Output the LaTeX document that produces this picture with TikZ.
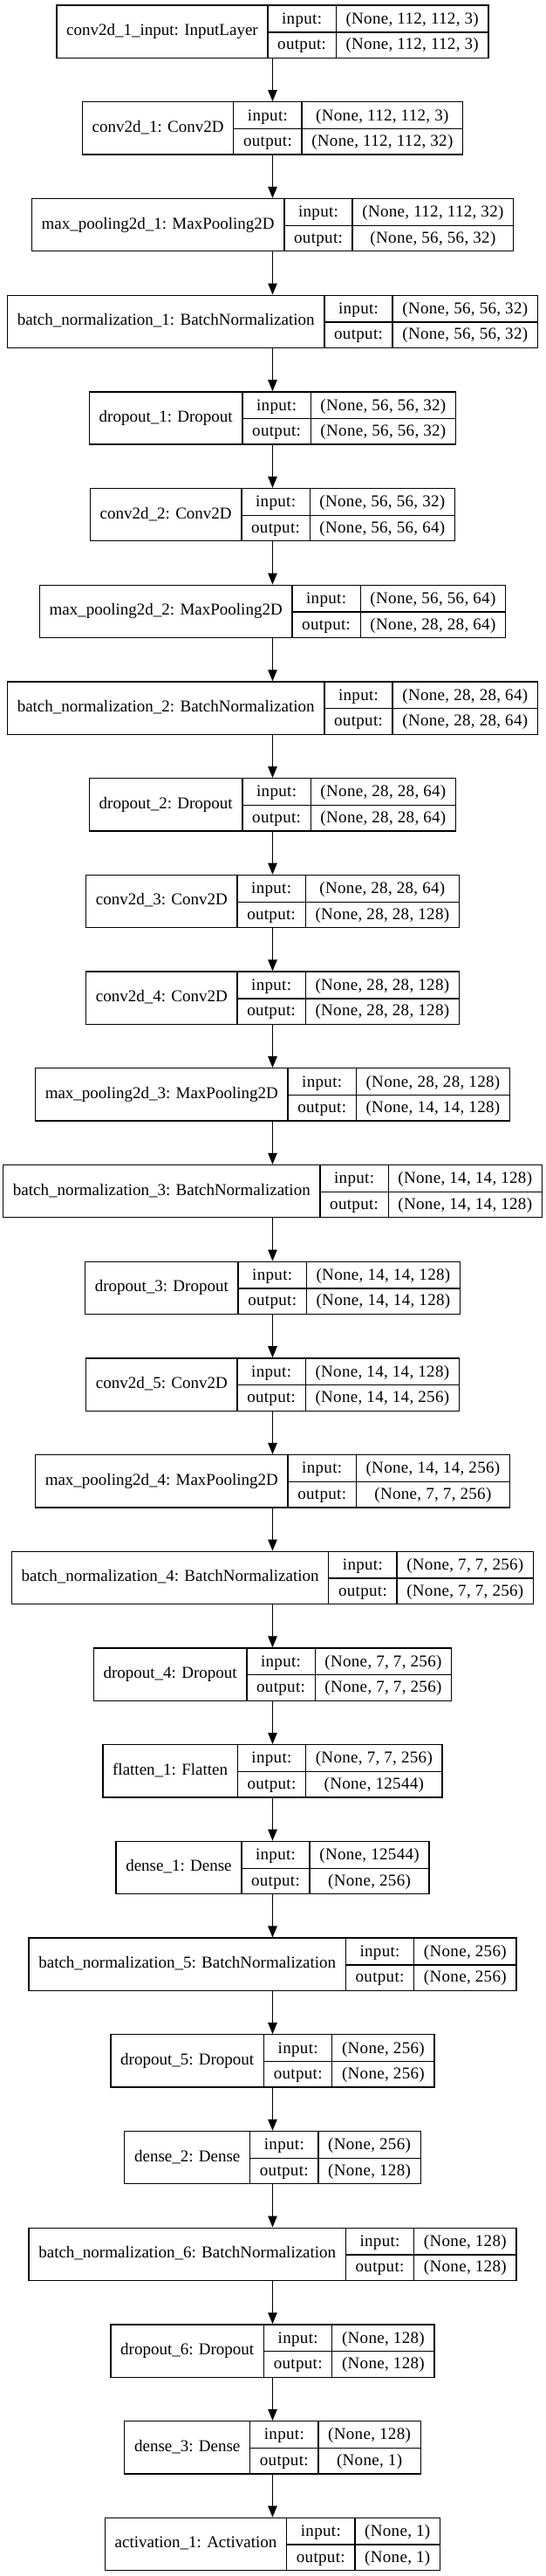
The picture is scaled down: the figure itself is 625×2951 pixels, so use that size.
\documentclass[tikz,border=0pt]{standalone}
\usepackage{fontspec}
\setmainfont{Liberation Serif}
\usepackage{array}
\usepackage{multirow}
\usepackage{tikz}
\usetikzlibrary{arrows.meta}
\tikzstyle{layer}=[inner sep=0pt, outer sep=0pt]
\tikzstyle{flow}=[line width=1.3pt, -{Triangle[length=13pt, width=10.4pt]}]
\newcommand{\layer}{\node[layer]}
\newcommand{\iotable}[3]{%
  \setlength{\arrayrulewidth}{1.3pt}\setlength{\tabcolsep}{10.6pt}%
  \renewcommand{\arraystretch}{1.34}%
  \begin{tabular}{|c|>{\addfontfeatures{LetterSpace=1.7}}c|>{\addfontfeatures{LetterSpace=1.7}}c|}\hline
    \multirow{2}{*}{#1} & input: & #2\\ \cline{2-3}
     & output: & #3\\ \hline
  \end{tabular}}

\begin{document}
\begin{tikzpicture}[font=\fontsize{19}{22}\selectfont, x=1pt, y=1pt]
                    \useasboundingbox (0,0) rectangle (625,-2951);
                    \layer (l1) at (312.5,-36.2) {\iotable{conv2d\_1\_input: InputLayer}{(None, 112, 112, 3)}{(None, 112, 112, 3)}};
                    \layer (l2) at (312.5,-146.9) {\iotable{conv2d\_1: Conv2D}{(None, 112, 112, 3)}{(None, 112, 112, 32)}};
                    \layer (l3) at (312.5,-257.6) {\iotable{max\_pooling2d\_1: MaxPooling2D}{(None, 112, 112, 32)}{(None, 56, 56, 32)}};
                    \layer (l4) at (312.5,-368.3) {\iotable{batch\_normalization\_1: BatchNormalization}{(None, 56, 56, 32)}{(None, 56, 56, 32)}};
                    \layer (l5) at (312.5,-479.0) {\iotable{dropout\_1: Dropout}{(None, 56, 56, 32)}{(None, 56, 56, 32)}};
                    \layer (l6) at (312.5,-589.7) {\iotable{conv2d\_2: Conv2D}{(None, 56, 56, 32)}{(None, 56, 56, 64)}};
                    \layer (l7) at (312.5,-700.4) {\iotable{max\_pooling2d\_2: MaxPooling2D}{(None, 56, 56, 64)}{(None, 28, 28, 64)}};
                    \layer (l8) at (312.5,-811.1) {\iotable{batch\_normalization\_2: BatchNormalization}{(None, 28, 28, 64)}{(None, 28, 28, 64)}};
                    \layer (l9) at (312.5,-921.8) {\iotable{dropout\_2: Dropout}{(None, 28, 28, 64)}{(None, 28, 28, 64)}};
                    \layer (l10) at (312.5,-1032.5) {\iotable{conv2d\_3: Conv2D}{(None, 28, 28, 64)}{(None, 28, 28, 128)}};
                    \layer (l11) at (312.5,-1143.2) {\iotable{conv2d\_4: Conv2D}{(None, 28, 28, 128)}{(None, 28, 28, 128)}};
                    \layer (l12) at (312.5,-1253.9) {\iotable{max\_pooling2d\_3: MaxPooling2D}{(None, 28, 28, 128)}{(None, 14, 14, 128)}};
                    \layer (l13) at (312.5,-1364.6) {\iotable{batch\_normalization\_3: BatchNormalization}{(None, 14, 14, 128)}{(None, 14, 14, 128)}};
                    \layer (l14) at (312.5,-1475.3) {\iotable{dropout\_3: Dropout}{(None, 14, 14, 128)}{(None, 14, 14, 128)}};
                    \layer (l15) at (312.5,-1586.0) {\iotable{conv2d\_5: Conv2D}{(None, 14, 14, 128)}{(None, 14, 14, 256)}};
                    \layer (l16) at (312.5,-1696.7) {\iotable{max\_pooling2d\_4: MaxPooling2D}{(None, 14, 14, 256)}{(None, 7, 7, 256)}};
                    \layer (l17) at (312.5,-1807.4) {\iotable{batch\_normalization\_4: BatchNormalization}{(None, 7, 7, 256)}{(None, 7, 7, 256)}};
                    \layer (l18) at (312.5,-1918.1) {\iotable{dropout\_4: Dropout}{(None, 7, 7, 256)}{(None, 7, 7, 256)}};
                    \layer (l19) at (312.5,-2028.8) {\iotable{flatten\_1: Flatten}{(None, 7, 7, 256)}{(None, 12544)}};
                    \layer (l20) at (312.5,-2139.5) {\iotable{dense\_1: Dense}{(None, 12544)}{(None, 256)}};
                    \layer (l21) at (312.5,-2250.2) {\iotable{batch\_normalization\_5: BatchNormalization}{(None, 256)}{(None, 256)}};
                    \layer (l22) at (312.5,-2360.9) {\iotable{dropout\_5: Dropout}{(None, 256)}{(None, 256)}};
                    \layer (l23) at (312.5,-2471.6) {\iotable{dense\_2: Dense}{(None, 256)}{(None, 128)}};
                    \layer (l24) at (312.5,-2582.3) {\iotable{batch\_normalization\_6: BatchNormalization}{(None, 128)}{(None, 128)}};
                    \layer (l25) at (312.5,-2693.0) {\iotable{dropout\_6: Dropout}{(None, 128)}{(None, 128)}};
                    \layer (l26) at (312.5,-2803.7) {\iotable{dense\_3: Dense}{(None, 128)}{(None, 1)}};
                    \layer (l27) at (312.5,-2914.4) {\iotable{activation\_1: Activation}{(None, 1)}{(None, 1)}};
                    \path[flow]
                        (l1) edge (l2)
                        (l2) edge (l3)
                        (l3) edge (l4)
                        (l4) edge (l5)
                        (l5) edge (l6)
                        (l6) edge (l7)
                        (l7) edge (l8)
                        (l8) edge (l9)
                        (l9) edge (l10)
                        (l10) edge (l11)
                        (l11) edge (l12)
                        (l12) edge (l13)
                        (l13) edge (l14)
                        (l14) edge (l15)
                        (l15) edge (l16)
                        (l16) edge (l17)
                        (l17) edge (l18)
                        (l18) edge (l19)
                        (l19) edge (l20)
                        (l20) edge (l21)
                        (l21) edge (l22)
                        (l22) edge (l23)
                        (l23) edge (l24)
                        (l24) edge (l25)
                        (l25) edge (l26)
                        (l26) edge (l27)
                    ;
                \end{tikzpicture}
\end{document}
